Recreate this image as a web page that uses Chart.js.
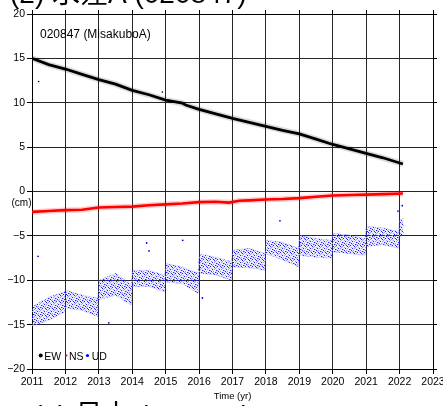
<!DOCTYPE html>
<html>
<head>
<meta charset="utf-8">
<script src="https://cdn.jsdelivr.net/npm/chart.js@4"></script>
<style>
	html, body { margin: 0; padding: 0; background: #fff; }
	canvas { display: block; }
</style>
</head>
<body>
<canvas id="canvas" width="443" height="406"></canvas>
<script>
const FONT = '"Liberation Sans", Arial, "Noto Sans CJK JP", sans-serif'

// Texts
const titleTop = '(2) 水窪A (020847)'
const titleBottom = '(5) 呂上 (020693)'
const stationLabel = '020847 (MisakuboA)'
const xTitle = 'Time (yr)'
const yTitle = '(cm)'
const legendNames = ['EW', 'NS', 'UD']

// Axes
const yearTicks = [2011, 2012, 2013, 2014, 2015, 2016, 2017, 2018, 2019, 2020, 2021, 2022, 2023]
const cmTicks = [-20, -15, -10, -5, 0, 5, 10, 15, 20]

// EW (east-west), cm
const ewYear = [2011.0, 2011.5, 2012.0, 2012.5, 2013.0, 2013.5, 2014.0, 2014.5, 2015.0, 2015.5, 2015.6, 2016.0, 2016.5, 2017.0, 2017.5, 2018.0, 2018.5, 2019.0, 2019.5, 2020.0, 2020.5, 2021.0, 2021.5, 2022.1]
const ewCm = [15.0, 14.3, 13.8, 13.2, 12.6, 12.1, 11.4, 10.9, 10.3, 9.95, 9.75, 9.25, 8.75, 8.25, 7.8, 7.35, 6.9, 6.5, 5.9, 5.3, 4.8, 4.3, 3.8, 3.1]

// NS (north-south), cm
const nsYear = [2011.0, 2011.5, 2012.0, 2012.5, 2013.0, 2013.5, 2014.0, 2014.5, 2015.0, 2015.5, 2016.0, 2016.5, 2016.9, 2017.2, 2017.5, 2018.0, 2018.5, 2019.0, 2019.5, 2020.0, 2020.5, 2021.0, 2021.5, 2022.1]
const nsCm = [-2.3, -2.2, -2.1, -2.05, -1.8, -1.75, -1.7, -1.55, -1.45, -1.35, -1.2, -1.15, -1.25, -1.05, -1.0, -0.9, -0.85, -0.75, -0.6, -0.45, -0.4, -0.35, -0.3, -0.22]

// UD (up-down): upper and lower edge of the scatter, cm
const udYear = [
	2011.0, 2011.5, 2011.97, 2012.0, 2012.5, 2012.97, 2013.0, 2013.5, 2013.97, 2014.0, 2014.5, 2014.97,
	2015.0, 2015.5, 2015.97, 2016.0, 2016.5, 2016.97, 2017.0, 2017.5, 2017.97, 2018.0, 2018.5, 2018.97,
	2019.0, 2019.5, 2019.97, 2020.0, 2020.5, 2020.97, 2021.0, 2021.5, 2021.97, 2022.0, 2022.12,
]
const udHigh = [
	-13.0, -11.9, -11.3, -11.1, -11.7, -12.0, -10.0, -9.2, -10.5, -8.9, -8.9, -9.4,
	-8.1, -8.5, -9.2, -7.0, -7.4, -7.9, -6.6, -6.4, -7.0, -5.5, -5.7, -6.4,
	-4.9, -5.3, -5.5, -4.7, -4.9, -5.3, -3.9, -4.1, -4.5, -3.2, -3.0,
]
const udLow = [
	-15.2, -14.5, -13.6, -13.1, -13.4, -14.1, -12.2, -11.7, -12.8, -10.7, -10.7, -11.3,
	-10.2, -10.4, -11.5, -9.2, -9.4, -10.0, -8.5, -8.6, -8.9, -7.0, -7.7, -8.5,
	-7.2, -7.4, -7.5, -6.8, -7.0, -7.2, -6.2, -6.0, -6.4, -5.1, -4.8,
]

// Stray points
const udOutYear = [2011.18, 2014.43, 2014.5, 2015.51, 2018.42, 2021.95, 2022.08, 2016.1, 2013.3]
const udOutCm = [-7.3, -5.8, -6.7, -5.5, -3.3, -2.2, -1.6, -12.0, -14.8]
const ewOutYear = [2011.2, 2014.9]
const ewOutCm = [12.4, 11.2]

const toPoints = (xs, ys) => xs.map((x, i) => ({ x, y: ys[i] }))

// Dotted fill for the UD scatter band
const speckle = () => {
	const tile = document.createElement('canvas')
	tile.width = 7
	tile.height = 7
	const g = tile.getContext('2d')
	g.fillStyle = 'rgba(70,70,255,0.10)'
	g.fillRect(0, 0, 7, 7)
	g.fillStyle = '#2020ff'
	;[[0, 0], [4, 1], [2, 3], [6, 4], [1, 5], [5, 6], [3, 0]].forEach(([x, y]) => g.fillRect(x, y, 1, 1))
	g.fillStyle = '#9a9aff'
	;[[6, 1], [1, 2], [4, 3], [3, 5], [0, 4], [5, 2], [2, 6], [6, 6]].forEach(([x, y]) => g.fillRect(x, y, 1, 1))
	return g.createPattern(tile, 'repeat')
}

// Extra texts and the legend inside the plot
const annotations = {
	id: 'annotations',
	afterDraw(chart) {
		const { ctx } = chart
		ctx.save()
		ctx.fillStyle = '#000'
		ctx.textBaseline = 'alphabetic'

		ctx.font = `28px ${FONT}`
		ctx.textAlign = 'left'
		ctx.fillText(titleTop, 10, 3)
		ctx.fillText(titleBottom, 33, 425)

		ctx.font = `12px ${FONT}`
		ctx.fillText(stationLabel, 40, 37.5)

		ctx.font = `10px ${FONT}`
		ctx.fillText(yTitle, 11.5, 205.5)

		ctx.font = `9.5px ${FONT}`
		ctx.textAlign = 'center'
		ctx.fillText(xTitle, 232.5, 398.5)

		// legend
		ctx.textAlign = 'left'
		ctx.font = `10.5px ${FONT}`
		const marks = [
			{ dot: 40.7, r: 2, color: '#000', text: 44.3 },
			{ dot: 66.5, r: 0.9, color: '#f00', text: 69 },
			{ dot: 87.5, r: 1.6, color: '#00f', text: 91.7 },
		]
		marks.forEach((m, i) => {
			ctx.fillStyle = m.color
			ctx.beginPath()
			ctx.arc(m.dot, 355.5, m.r, 0, Math.PI * 2)
			ctx.fill()
			ctx.fillStyle = '#000'
			ctx.fillText(legendNames[i], m.text, 359.5)
		})
		ctx.restore()
	},
}

const gridColor = '#262626'
const tickFont = { family: FONT, size: 10.5 }

const chart = new Chart(document.getElementById('canvas'), {
	type: 'scatter',
	data: {
		datasets: [
			{ data: toPoints(ewYear, ewCm), showLine: true, borderColor: '#000', borderWidth: 2.8, pointRadius: 0 },
			{ data: toPoints(ewYear, ewCm), showLine: true, borderColor: 'rgba(0,0,0,0.14)', borderWidth: 6, pointRadius: 0 },
			{ data: toPoints(ewOutYear, ewOutCm), backgroundColor: '#000', pointRadius: 0.8, borderWidth: 0 },
			{ data: toPoints(nsYear, nsCm), showLine: true, borderColor: '#ff0000', borderWidth: 2.6, pointRadius: 0 },
			{ data: toPoints(nsYear, nsCm), showLine: true, borderColor: 'rgba(255,0,0,0.2)', borderWidth: 5.5, pointRadius: 0 },
			{ data: toPoints(udOutYear, udOutCm), backgroundColor: '#0000ff', pointRadius: 0.9, borderWidth: 0 },
			{ data: toPoints(udYear, udHigh), showLine: true, borderColor: 'rgba(60,60,255,0.15)', borderWidth: 1, pointRadius: 0, fill: '+1', backgroundColor: speckle() },
			{ data: toPoints(udYear, udLow), showLine: true, borderColor: 'rgba(60,60,255,0.15)', borderWidth: 1, pointRadius: 0 },
		],
	},
	options: {
		responsive: false,
		animation: false,
		devicePixelRatio: 1,
		layout: { padding: { top: 10, right: 6, bottom: 0, left: 0 } },
		plugins: { legend: { display: false }, tooltip: { enabled: false } },
		scales: {
			x: {
				type: 'linear',
				position: 'bottom',
				min: yearTicks[0],
				max: yearTicks[yearTicks.length - 1],
				afterBuildTicks: scale => { scale.ticks = yearTicks.map(value => ({ value })) },
				ticks: { callback: v => String(v), color: '#000', font: tickFont, padding: 2, maxRotation: 0, autoSkip: false },
				grid: { color: gridColor, lineWidth: 1, tickLength: 5, tickColor: '#000' },
				border: { color: '#000' },
				afterFit: scale => {
					scale.height = 37
					scale.paddingLeft = 0
					scale.paddingRight = 0
				},
			},
			x2: {
				type: 'linear',
				position: 'top',
				min: yearTicks[0],
				max: yearTicks[yearTicks.length - 1],
				afterBuildTicks: scale => { scale.ticks = yearTicks.map(value => ({ value })) },
				ticks: { display: false },
				grid: { drawOnChartArea: false, tickLength: 4, tickColor: '#000' },
				border: { color: '#000' },
				afterFit: scale => { scale.height = 4 },
			},
			y: {
				min: cmTicks[0],
				max: cmTicks[cmTicks.length - 1],
				afterBuildTicks: scale => { scale.ticks = cmTicks.map(value => ({ value })) },
				ticks: { callback: v => (v < 0 ? '\u2212' + Math.abs(v) : String(v)), color: '#000', font: tickFont, padding: 2 },
				grid: { color: gridColor, lineWidth: 1, tickLength: 5, tickColor: '#000' },
				border: { color: '#000' },
				afterFit: scale => { scale.width = 32 },
			},
			y2: {
				position: 'right',
				min: cmTicks[0],
				max: cmTicks[cmTicks.length - 1],
				afterBuildTicks: scale => { scale.ticks = cmTicks.map(value => ({ value })) },
				ticks: { display: false },
				grid: { drawOnChartArea: false, tickLength: 4, tickColor: '#000' },
				border: { color: '#000' },
				afterFit: scale => { scale.width = 4 },
			},
		},
	},
	plugins: [annotations],
})
</script>
</body>
</html>
